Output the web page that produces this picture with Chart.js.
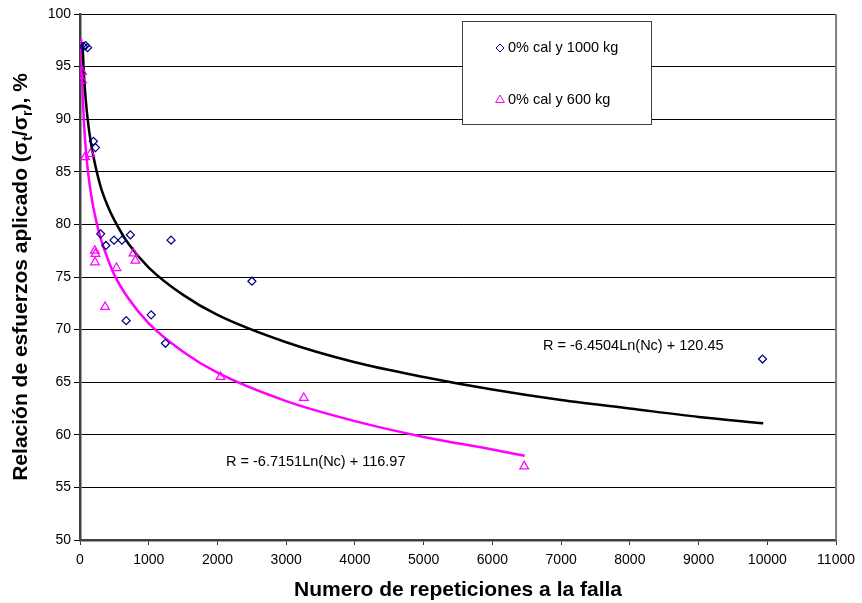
<!DOCTYPE html>
<html>
<head>
<meta charset="utf-8">
<script src="https://cdn.jsdelivr.net/npm/chart.js@4.4.1/dist/chart.umd.min.js"></script>
<style>html,body{margin:0;padding:0;background:#fff}canvas{display:block}</style>
</head>
<body>
<canvas id="chart" width="862" height="603"></canvas>
<script>
const seriesNames=['0% cal y 1000 kg','0% cal y 600 kg'];

// 0% cal y 1000 kg (diamonds)
const reps1000 =[50,80,110,195,225,300,377,495,610,733,672,1035,1243,1325,2501,9930];
const ratio1000=[96.9,97.0,96.8,87.9,87.3,79.1,78.0,78.5,78.5,79.0,70.85,71.4,68.7,78.5,74.6,67.2];

// 0% cal y 600 kg (triangles)
const reps600 =[30,32,75,150,215,225,218,365,530,778,805,2045,3256,6463];
const ratio600=[94.5,93.7,86.4,86.7,77.5,77.2,76.4,72.15,75.85,77.25,76.55,65.5,63.5,57.0];

// trend curves
const trendReps1000 =[36,50,70,100,150,200,300,400,500,700,1000,1500,2000,3000,4000,5000,6000,7000,8000,9000,9940];
const trendRatio1000=[97.3,95.2,93.0,90.7,88.1,86.3,83.6,81.8,80.4,78.2,75.9,73.3,71.4,68.8,66.9,65.5,64.3,63.3,62.5,61.7,61.1];
const trendReps600 =[18,25,35,50,70,100,150,200,300,400,500,700,1000,1500,2000,3000,4000,5000,6000,6470];
const trendRatio600=[97.6,95.4,93.1,90.7,88.4,86.0,83.3,81.4,78.7,76.8,75.2,73.0,70.6,67.9,65.9,63.2,61.3,59.8,58.6,58.0];

const trendLabels=['R = -6.4504Ln(Nc) + 120.45','R = -6.7151Ln(Nc) + 116.97'];

const xTickValues=[0,1000,2000,3000,4000,5000,6000,7000,8000,9000,10000,11000];
const yTickValues=[50,55,60,65,70,75,80,85,90,95,100];

const FONT='"Liberation Sans", Arial, sans-serif';
const pts=(xs,ys)=>xs.map((x,i)=>({x,y:ys[i]}));

const decor={
  id:'decor',
  afterDraw(chart){
    const {ctx,chartArea:a}=chart;
    ctx.save();
    // right frame
    ctx.strokeStyle='#808080'; ctx.lineWidth=2;
    ctx.beginPath(); ctx.moveTo(a.right,a.top); ctx.lineTo(a.right,a.bottom); ctx.stroke();

    // legend box
    ctx.fillStyle='#fff'; ctx.fillRect(462,21,189,103);
    ctx.strokeStyle='#404040'; ctx.lineWidth=1; ctx.strokeRect(462.5,21.5,189,103);
    const items=[{style:'rectRot',r:4,c:'#000080',y:48},{style:'triangle',r:5,c:'#FF00FF',y:100}];
    ctx.font='14.5px '+FONT; ctx.textBaseline='middle'; ctx.textAlign='left';
    items.forEach((it,i)=>{
      ctx.strokeStyle=it.c; ctx.fillStyle='rgba(0,0,0,0)';
      Chart.helpers.drawPoint(ctx,{pointStyle:it.style,radius:it.r,borderWidth:1.25,rotation:0},500,it.y);
      ctx.fillStyle='#000';
      ctx.fillText(seriesNames[i],508,it.y);
    });

    // trend equations
    ctx.fillStyle='#000';
    ctx.fillText(trendLabels[0],543,346);
    ctx.fillText(trendLabels[1],226,462);

    // y title with subscripts
    const big='bold 21px '+FONT, small='bold 14px '+FONT;
    const parts=[['Relación de esfuerzos aplicado (σ',big,0],['t',small,5],['/σ',big,0],['r',small,5],['), %',big,0]];
    let total=0;
    parts.forEach(p=>{ctx.font=p[1]; total+=ctx.measureText(p[0]).width;});
    ctx.translate(27,(a.top+a.bottom)/2);
    ctx.rotate(-Math.PI/2);
    ctx.textBaseline='alphabetic';
    let x=-total/2;
    parts.forEach(p=>{ctx.font=p[1]; ctx.fillText(p[0],x,p[2]); x+=ctx.measureText(p[0]).width;});
    ctx.restore();
  }
};

new Chart(document.getElementById('chart'),{
  type:'scatter',
  data:{datasets:[
    {label:seriesNames[0],data:pts(reps1000,ratio1000),pointStyle:'rectRot',pointRadius:4,pointBorderWidth:1.25,
     borderColor:'#000080',backgroundColor:'rgba(0,0,0,0)',showLine:false},
    {label:seriesNames[1],data:pts(reps600,ratio600),pointStyle:'triangle',pointRadius:5,pointBorderWidth:1.25,
     borderColor:'#FF00FF',backgroundColor:'rgba(0,0,0,0)',showLine:false},
    {label:trendLabels[0],data:pts(trendReps1000,trendRatio1000),showLine:true,pointRadius:0,borderColor:'#000',
     borderWidth:2.5,cubicInterpolationMode:'monotone'},
    {label:trendLabels[1],data:pts(trendReps600,trendRatio600),showLine:true,pointRadius:0,borderColor:'#FF00FF',
     borderWidth:2.5,cubicInterpolationMode:'monotone'}
  ]},
  options:{
    responsive:false,animation:false,
    layout:{padding:{top:14,right:24,left:0,bottom:0}},
    plugins:{legend:{display:false},tooltip:{enabled:false}},
    scales:{
      x:{type:'linear',min:0,max:11000,
        afterBuildTicks:s=>{s.ticks=xTickValues.map(v=>({value:v}));},
        afterFit:s=>{s.height=63;},
        ticks:{color:'#000',font:{family:FONT,size:14},padding:7,maxRotation:0,autoSkip:false,callback:v=>String(v)},
        grid:{drawOnChartArea:false,drawTicks:true,tickLength:5,color:'#333'},
        border:{display:true,color:'#404040',width:2.5},
        title:{display:true,text:'Numero de repeticiones a la falla',color:'#000',font:{family:FONT,size:21,weight:'bold'},padding:{top:0,bottom:0}}
      },
      y:{type:'linear',min:50,max:100,
        afterBuildTicks:s=>{s.ticks=yTickValues.map(v=>({value:v}));},
        afterFit:s=>{s.width=80;},
        ticks:{color:'#000',font:{family:FONT,size:14},padding:3,autoSkip:false,callback:v=>String(v)},
        grid:{color:'#000',lineWidth:1,tickLength:6},
        border:{display:true,color:'#404040',width:2.5}
      }
    }
  },
  plugins:[decor]
});
</script>
</body>
</html>
